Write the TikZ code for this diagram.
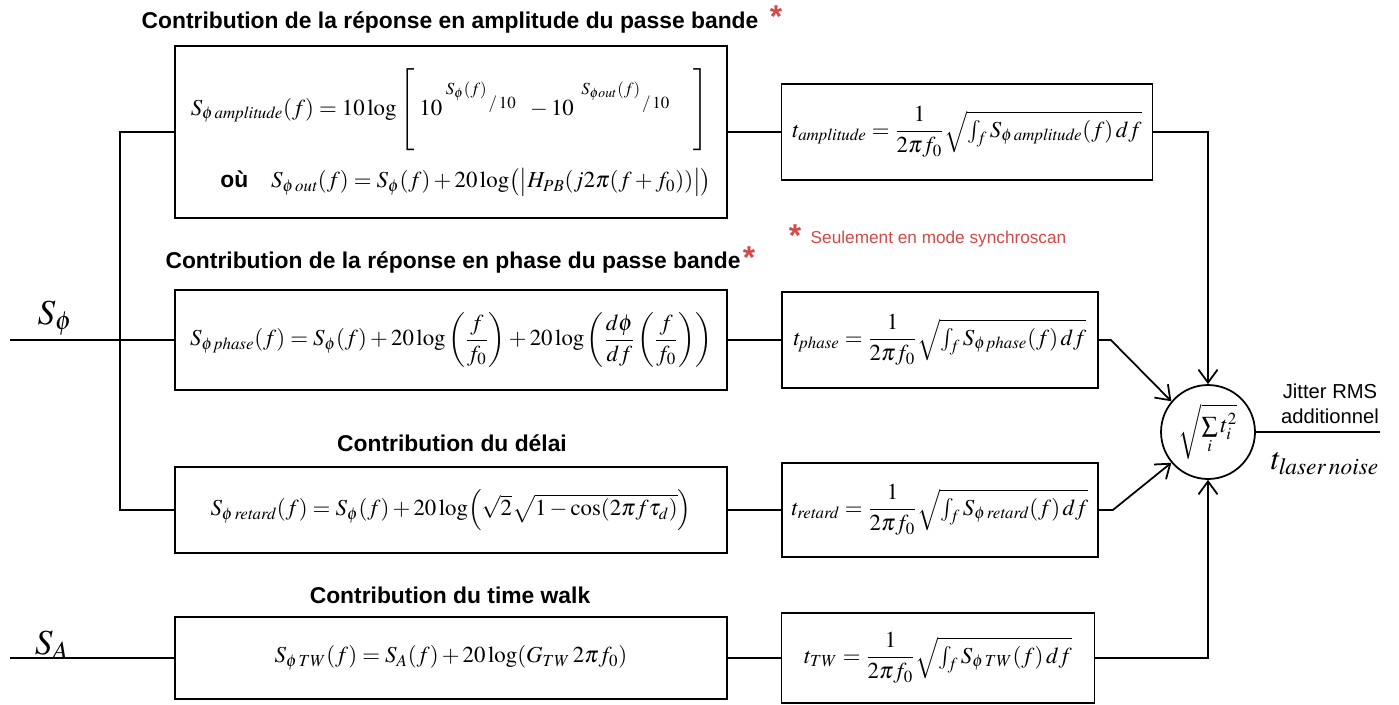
\documentclass[tikz,border=0pt]{standalone}
\usepackage{amsmath}
\usepackage{mathptmx}
\usepackage[no-math]{fontspec}
\setsansfont{Liberation Sans}
\usetikzlibrary{arrows.meta,positioning}
\definecolor{noteRed}{RGB}{212,72,72}
\newcommand{\slashten}{\mkern2mu\raisebox{-1.4ex}{$\scriptstyle/\mkern2mu10$}}

\begin{document}
\begin{tikzpicture}[x=0.02cm,y=-0.02cm,line width=1pt,
  >={Straight Barb[length=2.6mm,width=3.8mm]},
  box/.style={draw,line width=1pt,inner sep=2pt},
  ttl/.style={font=\sffamily\bfseries\fontsize{13}{15}\selectfont},
  eq/.style={font=\fontsize{13}{16}\selectfont},
  big/.style={font=\fontsize{20}{22}\selectfont},
  star/.style={text=noteRed,font=\sffamily\bfseries\fontsize{18}{18}\selectfont}]
  \useasboundingbox (0,0) rectangle (1399,704);
  % titres
  \node[ttl] (t1) at (450,22) {Contribution de la réponse en amplitude du passe bande};
  \node[star] (s1) at (776,17) {*};
  \node[ttl] (t2) at (453,262) {Contribution de la réponse en phase du passe bande};
  \node[star] (s2) at (749,258) {*};
  \node[ttl] (t3) at (452,443) {Contribution du délai};
  \node[ttl] (t4) at (450,595) {Contribution du time walk};
  \node[star] (s3) at (795,236) {*};
  \node[anchor=west,text=noteRed,font=\sffamily\fontsize{9.8}{11}\selectfont] (note) at (804,239) {Seulement en mode synchroscan};
  % blocs de gauche
  \node[box,eq,minimum width=11.04cm,minimum height=3.44cm,align=left] (ampl) at (451,132)
    {$S_{\phi\,\mathit{amplitude}}(f)=10\log\left[\;10^{\;S_\phi(f)\slashten}\;\;-10^{\;\;S_{\phi out}(f)\slashten}\quad\vphantom{\rule[-0.75cm]{0pt}{1.5cm}}\right]$\\[8pt]
     \hspace{1.3em}{\sffamily\bfseries où}\quad $S_{\phi\,\mathit{out}}(f)=S_\phi(f)+20\log\bigl(\bigl|H_{PB}(j2\pi(f+f_0))\bigr|\bigr)$};
  \node[box,eq,minimum width=11.04cm,minimum height=2cm] (phase) at (451,340)
    {$S_{\phi\,\mathit{phase}}(f)=S_\phi(f)+20\log\left(\dfrac{f}{f_0}\right)+20\log\left(\dfrac{d\phi}{df}\left(\dfrac{f}{f_0}\right)\right)$};
  \node[box,eq,minimum width=11.04cm,minimum height=1.72cm] (retard) at (451,510)
    {$S_{\phi\,\mathit{retard}}(f)=S_\phi(f)+20\log\Bigl(\sqrt{2}\sqrt{1-\cos(2\pi f\tau_d)}\Bigr)$};
  \node[box,eq,minimum width=11.04cm,minimum height=1.64cm] (tw) at (451,658)
    {$S_{\phi\,TW}(f)=S_A(f)+20\log(G_{TW}\,2\pi f_0)$};
  % blocs de droite
  \node[box,eq,minimum width=7.42cm,minimum height=1.92cm] (tampl) at (967,132)
    {$t_{\mathit{amplitude}}=\dfrac{1}{2\pi f_0}\sqrt{\int_f S_{\phi\,\mathit{amplitude}}(f)\,df}$};
  \node[box,eq,minimum width=6.32cm,minimum height=1.92cm] (tphase) at (940,340)
    {$t_{\mathit{phase}}=\dfrac{1}{2\pi f_0}\sqrt{\int_f S_{\phi\,\mathit{phase}}(f)\,df}$};
  \node[box,eq,minimum width=6.32cm,minimum height=1.88cm] (tretard) at (940,510)
    {$t_{\mathit{retard}}=\dfrac{1}{2\pi f_0}\sqrt{\int_f S_{\phi\,\mathit{retard}}(f)\,df}$};
  \node[box,eq,minimum width=6.26cm,minimum height=1.8cm] (ttw) at (938,658)
    {$t_{TW}=\dfrac{1}{2\pi f_0}\sqrt{\int_f S_{\phi\,TW}(f)\,df}$};
  % somme
  \node[circle,draw,line width=1pt,minimum size=1.88cm,inner sep=0pt,eq] (sum) at (1208,432)
    {$\sqrt{\sum\limits_i t_i^2}$};
  % entrees et sortie
  \node[big] (sphi) at (55,318) {$S_\phi$};
  \node[big] (sa) at (52,645) {$S_A$};
  \coordinate (in1) at (10,340);
  \coordinate (in2) at (10,658);
  \coordinate (split) at (120,340);
  \coordinate (out) at (1380,432);
  \node[font=\sffamily\fontsize{11.5}{14}\selectfont,align=center] (jit) at (1330,404) {Jitter RMS\\additionnel};
  \node[font=\fontsize{18}{20}\selectfont] (tl) at (1325,464) {$t_{\mathit{laser\,noise}}$};
  % liaisons
  \draw (in1) -- (phase);
  \draw (ampl.west) -| (split) |- (retard.west);
  \draw (in2) -- (tw);
  \draw (ampl) -- (tampl);
  \draw (phase) -- (tphase);
  \draw (retard) -- (tretard);
  \draw (tw) -- (ttw);
  \draw[->] (tampl.east) -| (sum.north);
  \draw[->] (tphase.east) -- ++(12,0) -- (sum.140);
  \draw[->] (tretard.east) -- ++(14,0) -- (sum.220);
  \draw[->] (ttw.east) -| (sum.south);
  \draw (sum) -- (out);
\end{tikzpicture}
\end{document}
